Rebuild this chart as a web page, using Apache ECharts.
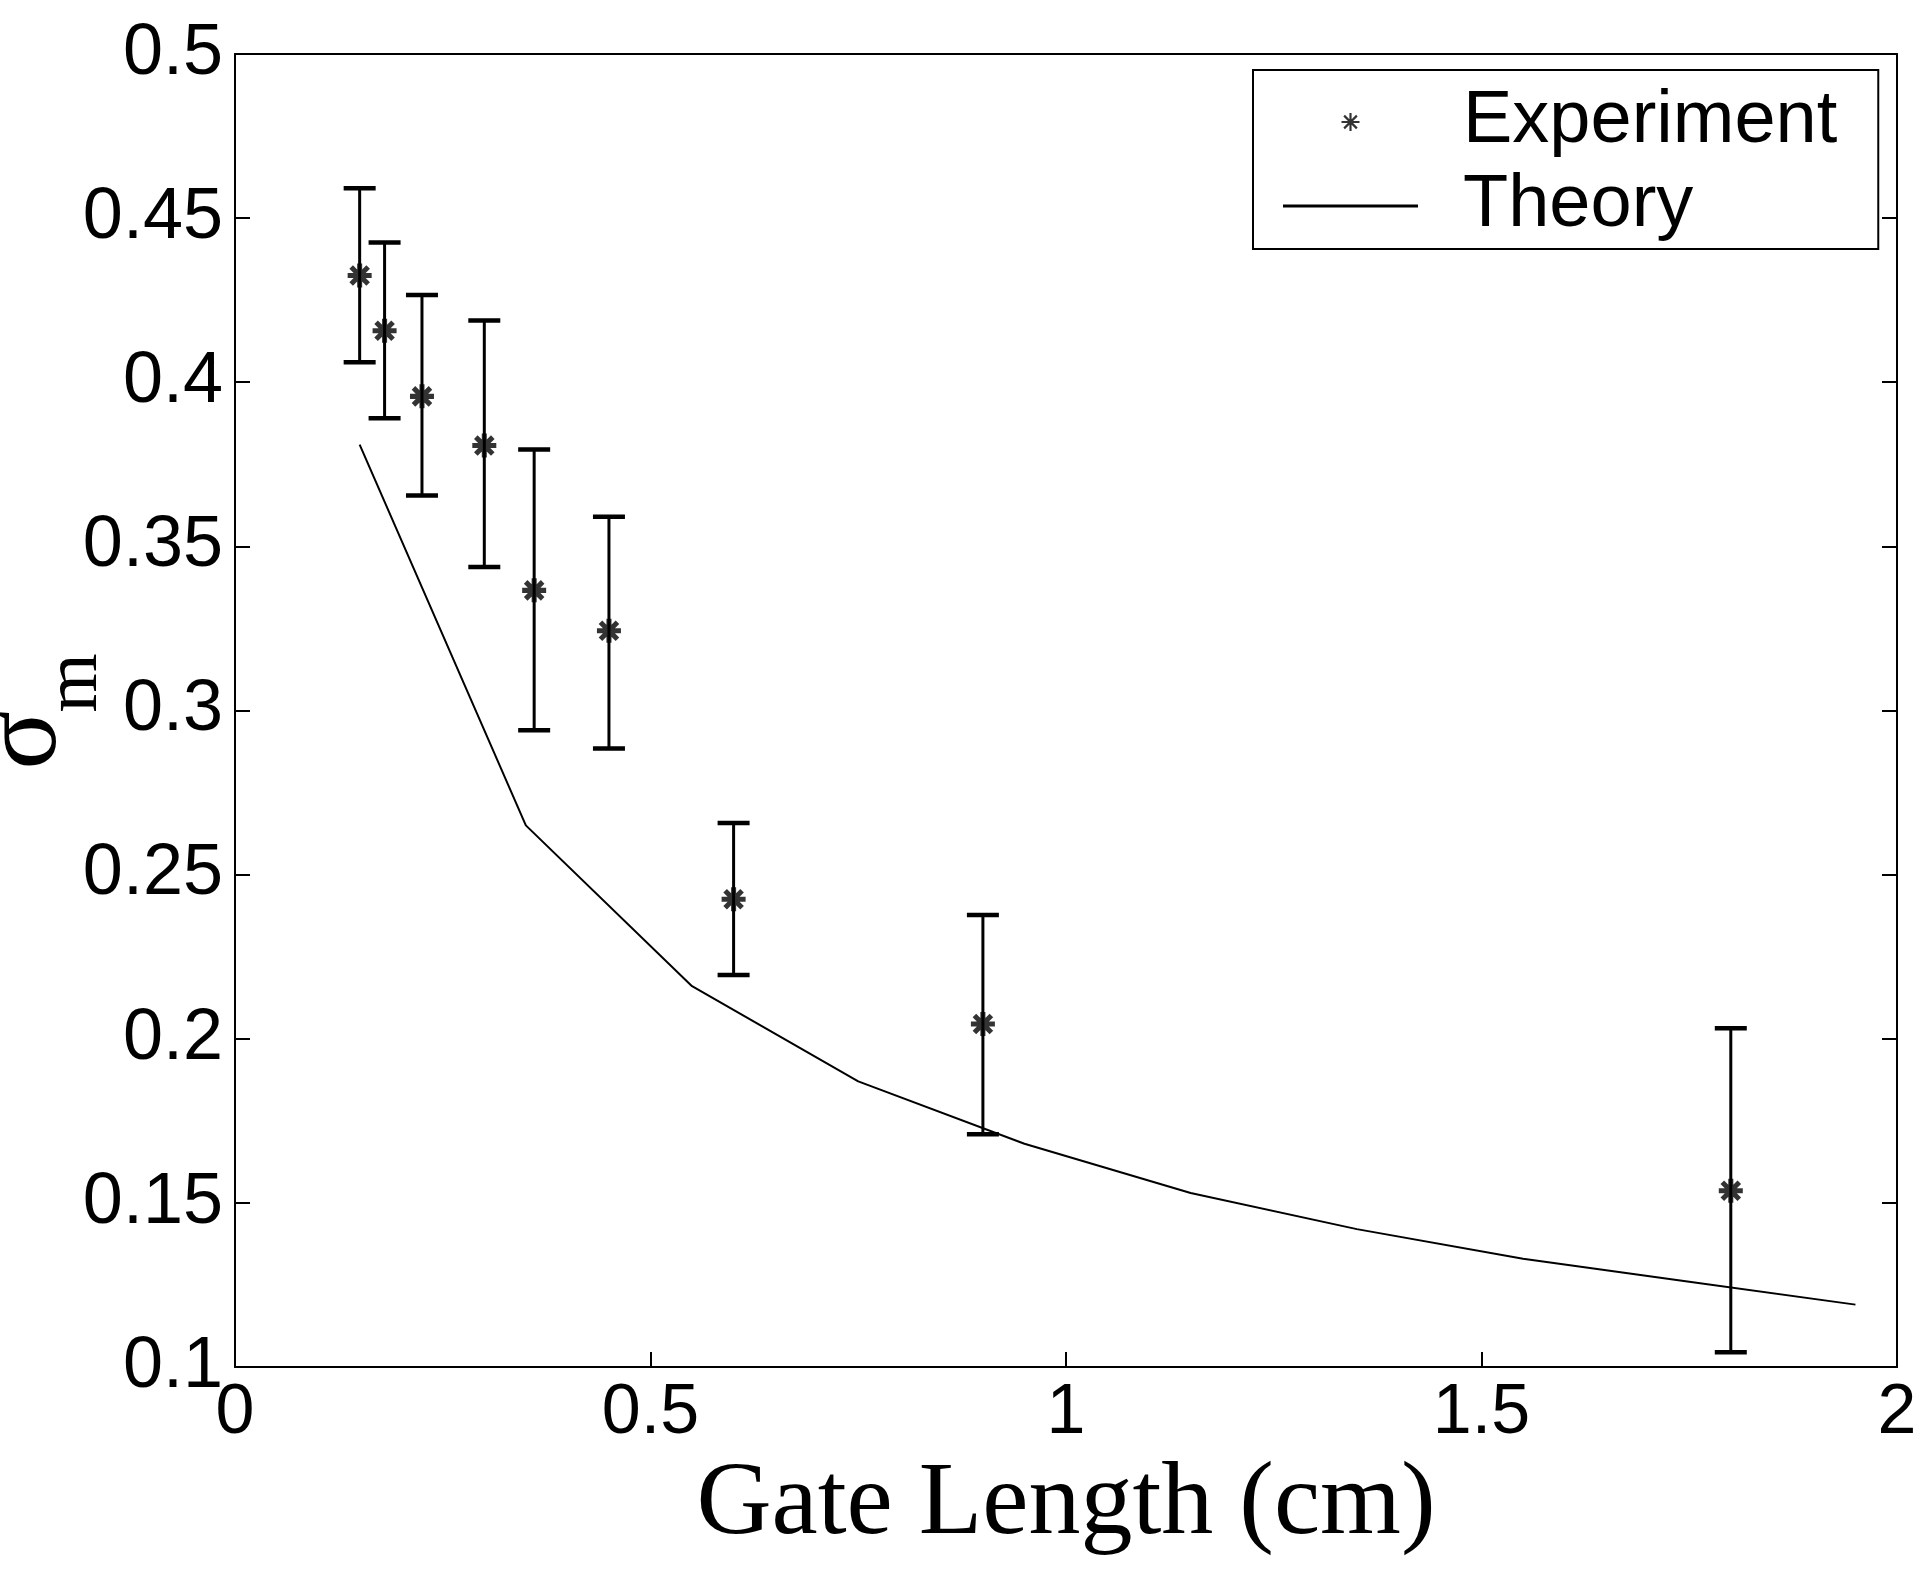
<!DOCTYPE html>
<html>
<head>
<meta charset="utf-8">
<script src="https://cdn.jsdelivr.net/npm/echarts@6/dist/echarts.min.js"></script>
<style>
html,body{margin:0;padding:0;background:#fff;}
#chart{width:1920px;height:1594px;}
</style>
</head>
<body>
<div id="chart"></div>
<script>
// ---- data ----
const xExp  = [0.15, 0.18, 0.225, 0.30, 0.36, 0.45, 0.60, 0.90, 1.80];
const yExp  = [0.4325, 0.4157, 0.3957, 0.3807, 0.3366, 0.3243, 0.2425, 0.2045, 0.1537];
const yLow  = [0.4061, 0.3890, 0.3655, 0.3437, 0.2940, 0.2884, 0.2194, 0.1709, 0.1045];
const yHigh = [0.4591, 0.4426, 0.4266, 0.4188, 0.3795, 0.3590, 0.2657, 0.2377, 0.2032];
const xTheory = [0.15, 0.35, 0.55, 0.75, 0.95, 1.15, 1.35, 1.55, 1.75, 1.95];
const yTheory = [0.381, 0.265, 0.216, 0.187, 0.168, 0.153, 0.142, 0.133, 0.126, 0.119];
const xTickLabels = ['0', '0.5', '1', '1.5', '2'];
const yTickLabels = ['0.1', '0.15', '0.2', '0.25', '0.3', '0.35', '0.4', '0.45', '0.5'];
const seriesNames = ['Experiment', 'Theory'];
const xAxisTitle = 'Gate Length (cm)';
const yAxisSymbol = 'σ';
const yAxisSub = 'm';

// asterisk shapes (filled union of 4 bars)
function asteriskPath(w) {
  const L = 10, a = 0.7071;
  const p = (x, y) => x.toFixed(2) + ',' + y.toFixed(2);
  const d1 = [[L*a + w*a, L*a - w*a], [L*a - w*a, L*a + w*a], [-L*a - w*a, -L*a + w*a], [-L*a + w*a, -L*a - w*a]];
  const d2 = [[-L*a - w*a, L*a - w*a], [L*a - w*a, -L*a - w*a], [L*a + w*a, -L*a + w*a], [-L*a + w*a, L*a + w*a]];
  let s = 'path://';
  s += 'M' + p(-L, -w) + 'L' + p(L, -w) + 'L' + p(L, w) + 'L' + p(-L, w) + 'Z';
  s += 'M' + p(-w, -L) + 'L' + p(w, -L) + 'L' + p(w, L) + 'L' + p(-w, L) + 'Z';
  s += 'M' + d1.map(q => p(q[0], q[1])).join('L') + 'Z';
  s += 'M' + d2.map(q => p(q[0], q[1])).join('L') + 'Z';
  return s;
}
const boldStar = asteriskPath(2.1);
const thinStar = asteriskPath(1.2);
const lineIcon = 'path://M0,0L135,0L135,3L0,3Z';

const expData = xExp.map((x, i) => [x, yExp[i]]);
const errData = xExp.map((x, i) => [x, yLow[i], yHigh[i]]);
const theoryData = xTheory.map((x, i) => [x, yTheory[i]]);

const SANS = '"Liberation Sans", Arial, sans-serif';
const SERIF = '"Liberation Serif", "Times New Roman", serif';

const chart = echarts.init(document.getElementById('chart'), null, {renderer: 'canvas'});
chart.setOption({
  backgroundColor: '#fff',
  animation: false,
  grid: {left: 235, right: 23, top: 54, bottom: 227, containLabel: false, outerBoundsMode: 'none'},
  legend: {
    orient: 'vertical',
    left: 1253, top: 70,
    padding: [10, 41, 1, 30],
    borderColor: '#000', borderWidth: 2,
    itemWidth: 135, itemHeight: 18, itemGap: 0,
    textStyle: {fontFamily: SANS, fontSize: 74, color: '#000', lineHeight: 84, padding: [0, 0, 0, 40]},
    data: [{name: seriesNames[0], icon: thinStar}, {name: seriesNames[1], icon: lineIcon}]
  },
  xAxis: [{
    type: 'value', min: 0, max: 2, interval: 0.5, position: 'bottom',
    axisLine: {show: true, onZero: false, lineStyle: {color: '#000', width: 2}},
    axisTick: {show: true, inside: true, length: 15, lineStyle: {color: '#000', width: 2}},
    splitLine: {show: false},
    axisLabel: {fontFamily: SANS, fontSize: 70, color: '#000', margin: 12,
      formatter: (v) => xTickLabels[Math.round(v / 0.5)]},
    name: xAxisTitle, nameLocation: 'middle', nameGap: 83,
    nameTextStyle: {fontFamily: SERIF, fontSize: 104, color: '#000'}
  }, {
    type: 'value', min: 0, max: 2, interval: 0.5, position: 'top',
    axisLine: {show: true, onZero: false, lineStyle: {color: '#000', width: 2}},
    axisTick: {show: false}, axisLabel: {show: false}, splitLine: {show: false}
  }],
  yAxis: [{
    type: 'value', min: 0.1, max: 0.5, interval: 0.05, position: 'left',
    axisLine: {show: true, onZero: false, lineStyle: {color: '#000', width: 2}},
    axisTick: {show: true, inside: true, length: 15, lineStyle: {color: '#000', width: 2}},
    splitLine: {show: false},
    axisLabel: {fontFamily: SANS, fontSize: 72, color: '#000', margin: 12,
      formatter: (v) => yTickLabels[Math.round((v - 0.1) / 0.05)]}
  }, {
    type: 'value', min: 0.1, max: 0.5, interval: 0.05, position: 'right',
    axisLine: {show: true, onZero: false, lineStyle: {color: '#000', width: 2}},
    axisTick: {show: true, inside: true, length: 15, lineStyle: {color: '#000', width: 2}},
    axisLabel: {show: false}, splitLine: {show: false}
  }],
  graphic: [
    {type: 'text', x: 26, y: 740, rotation: Math.PI / 2,
     style: {text: yAxisSymbol, font: '110px ' + SERIF, fill: '#000', textAlign: 'center', textVerticalAlign: 'middle'}},
    {type: 'text', x: 76, y: 683, rotation: Math.PI / 2,
     style: {text: yAxisSub, font: '76px ' + SERIF, fill: '#000', textAlign: 'center', textVerticalAlign: 'middle'}}
  ],
  series: [
    {
      name: seriesNames[1], type: 'line', data: theoryData,
      symbol: 'none', showSymbol: false, smooth: false,
      lineStyle: {color: '#000', width: 2}, itemStyle: {color: '#000'}, z: 2
    },
    {
      name: 'errorbars', type: 'custom', data: errData,
      encode: {x: 0, y: [1, 2]},
      renderItem: function (params, api) {
        const x = api.value(0), lo = api.value(1), hi = api.value(2);
        const a = api.coord([x, lo]), b = api.coord([x, hi]);
        const hw = 16;
        return {type: 'group', children: [
          {type: 'line', shape: {x1: a[0], y1: a[1], x2: b[0], y2: b[1]}, style: {stroke: '#000', lineWidth: 3}},
          {type: 'line', shape: {x1: a[0] - hw, y1: a[1], x2: a[0] + hw, y2: a[1]}, style: {stroke: '#000', lineWidth: 4.5}},
          {type: 'line', shape: {x1: b[0] - hw, y1: b[1], x2: b[0] + hw, y2: b[1]}, style: {stroke: '#000', lineWidth: 4.5}}
        ]};
      },
      z: 3
    },
    {
      name: seriesNames[0], type: 'scatter', data: expData,
      symbol: boldStar, symbolSize: 24, itemStyle: {color: '#000'}, z: 4
    }
  ]
});
</script>
</body>
</html>
